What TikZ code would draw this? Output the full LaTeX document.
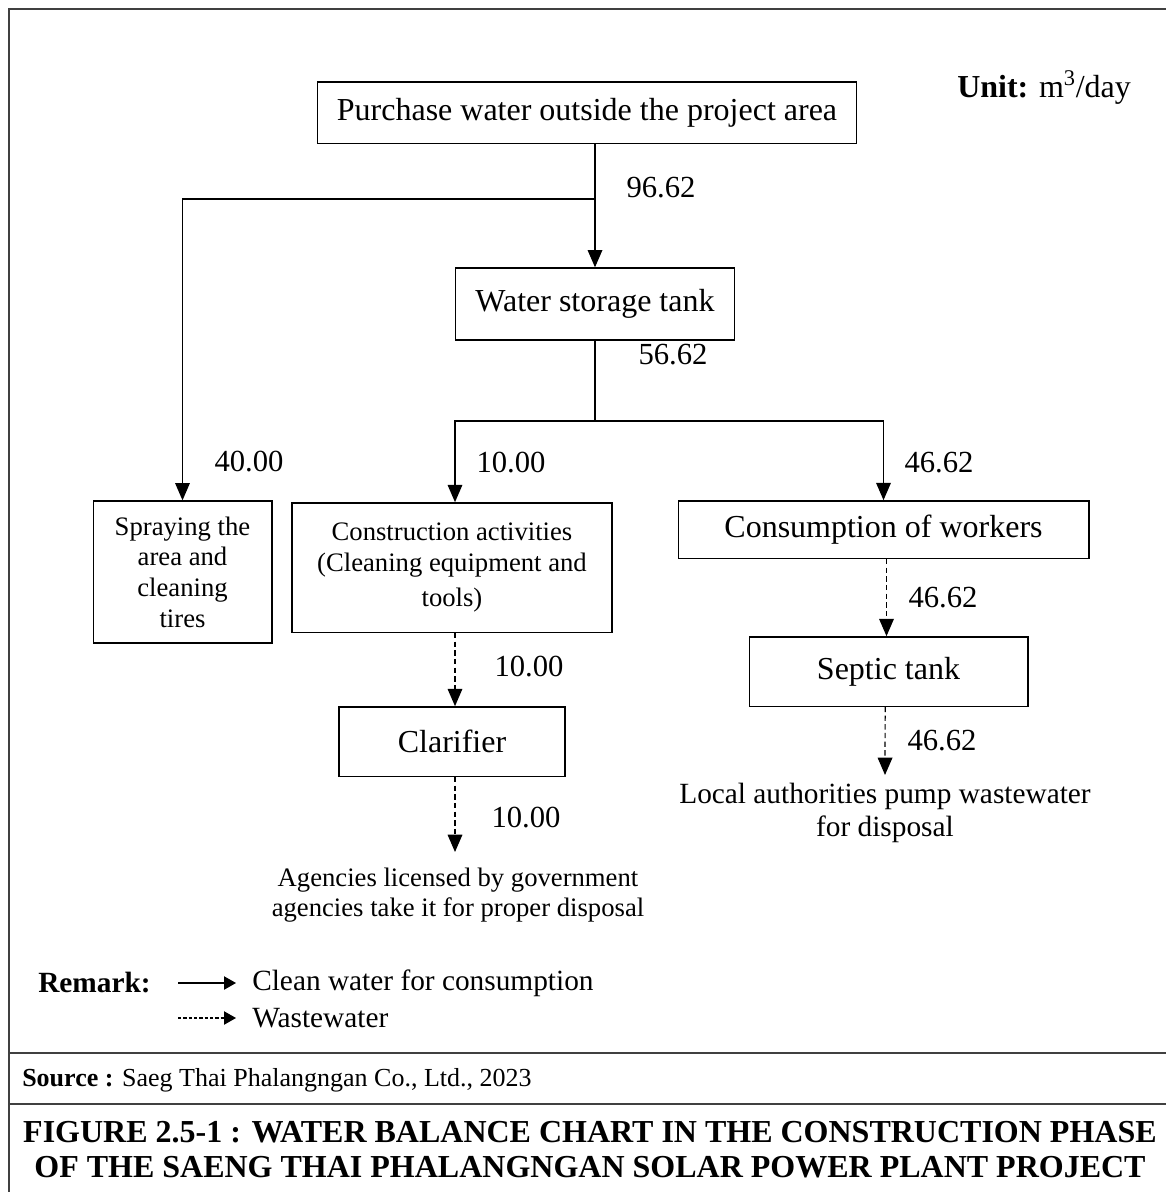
\documentclass[tikz,border=0pt]{standalone}
\usepackage{fontspec}
\setmainfont{Liberation Serif}
\usetikzlibrary{arrows.meta}
\tikzset{
  px/.style={x=0.75pt,y=-0.75pt},
  box/.style={draw,line width=1pt,inner sep=0pt,align=center},
  flow/.style={line width=0.9pt,-{Triangle[length=13pt,width=11pt]}},
  waste/.style={line width=0.9pt,dash pattern=on 4pt off 2.5pt,-{Triangle[length=13pt,width=11pt]}},
  plain/.style={line width=0.9pt},
  big/.style={font=\fontsize{24}{28}\selectfont},
  mid/.style={font=\fontsize{20}{23}\selectfont},
  num/.style={font=\fontsize{23}{27}\selectfont,inner sep=0pt},
  frame/.style={line width=1.2pt,draw=black!75}
}
\begin{document}
\begin{tikzpicture}[px]
\useasboundingbox (0,0) rectangle (1166,1192);
% frame
\draw[frame] (9,1192) -- (9,9) -- (1166,9);
\draw[frame] (9,1053) -- (1166,1053);
\draw[frame] (9,1104) -- (1166,1104);

% nodes
\node[box,big,minimum width=404pt,minimum height=46pt] (purchase) at (587,112.5) {Purchase water outside the project area};
\node[box,big,minimum width=209pt,minimum height=54pt] (tank) at (595,304) {Water storage tank};
\node[box,mid,minimum width=134pt,minimum height=106.5pt] (spray) at (182.5,572) {Spraying the\\area and\\cleaning\\tires};
\node[box,mid,minimum width=240pt,minimum height=97pt] (constr) at (452,567.5) {Construction activities\\(Cleaning equipment and\\[3pt]tools)};
\node[box,big,minimum width=308pt,minimum height=43pt] (cons) at (883.5,529.5) {Consumption of workers};
\node[box,big,minimum width=209pt,minimum height=52pt] (septic) at (888.5,671.5) {Septic tank};
\node[box,big,minimum width=169.5pt,minimum height=52pt] (clar) at (452,741.5) {Clarifier};

\coordinate (j1) at (595,199);
\coordinate (j2) at (595,421);
\coordinate (e1) at (885,775);
\coordinate (e2) at (455,852);

% clean water connectors
\draw[flow] (purchase.south -| tank.north) -- (tank.north);
\draw[flow] (j1) -| (spray.north);
\draw[plain] (tank.south) -- (j2);
\draw[flow] (j2) -| ([xshift=2.25pt]constr.north);
\draw[flow] (j2) -| (cons.north);

% wastewater connectors
\draw[waste] ([xshift=2.25pt]cons.south) -- ([xshift=2.25pt]cons.south |- septic.north);
\draw[waste] ([xshift=-2.5pt]septic.south) -- (e1);
\draw[waste] ([xshift=2.25pt]constr.south) -- ([xshift=2.25pt]clar.north);
\draw[waste] ([xshift=2.25pt]clar.south) -- (e2);

% flow labels
\node[num] (l1) at (661,188) {96.62};
\node[num] (l2) at (673,355) {56.62};
\node[num] (l3) at (249,462) {40.00};
\node[num] (l4) at (511,463) {10.00};
\node[num] (l5) at (939,463) {46.62};
\node[num] (l6) at (943,598) {46.62};
\node[num] (l7) at (942,741) {46.62};
\node[num] (l8) at (529,667) {10.00};
\node[num] (l9) at (526,818) {10.00};

% end texts
\node[align=center,font=\fontsize{22}{25}\selectfont,inner sep=0pt] (local) at (885,813) {Local authorities pump wastewater\\for disposal};
\node[align=center,font=\fontsize{20}{22.5}\selectfont,inner sep=0pt] (agency) at (458,895) {Agencies licensed by government\\agencies take it for proper disposal};

% unit
\node[anchor=west,inner sep=0pt,font=\fontsize{24}{28}\selectfont] (unit) at (957,88) {\textbf{Unit:} m\textsuperscript{3}/day};

% legend
\node[anchor=west,inner sep=0pt,font=\fontsize{22}{26}\selectfont\bfseries] (remark) at (38,983) {Remark:};
\coordinate (la) at (178,983);
\coordinate (lb) at (236,983);
\coordinate (lc) at (178,1018);
\coordinate (ld) at (236,1018);
\draw[line width=0.9pt,-{Triangle[length=9pt,width=10pt]}] (la) -- (lb);
\draw[line width=0.9pt,dash pattern=on 2.5pt off 1.5pt,-{Triangle[length=9pt,width=10pt]}] (lc) -- (ld);
\node[anchor=west,inner sep=0pt,font=\fontsize{22}{26}\selectfont] (leg1) at (252,983) {Clean water for consumption};
\node[anchor=west,inner sep=0pt,font=\fontsize{22}{26}\selectfont] (leg2) at (252,1018) {Wastewater};

% source
\node[anchor=west,inner sep=0pt,font=\fontsize{19.5}{23}\selectfont] (source) at (22,1080) {\textbf{Source :} Saeg Thai Phalangngan Co., Ltd., 2023};

% title
\node[align=center,inner sep=0pt,font=\fontsize{24}{26.3}\selectfont\bfseries] (title) at (590,1149.5) {FIGURE 2.5-1 : WATER BALANCE CHART IN THE CONSTRUCTION PHASE\\OF THE SAENG THAI PHALANGNGAN SOLAR POWER PLANT PROJECT};
\end{tikzpicture}
\end{document}
